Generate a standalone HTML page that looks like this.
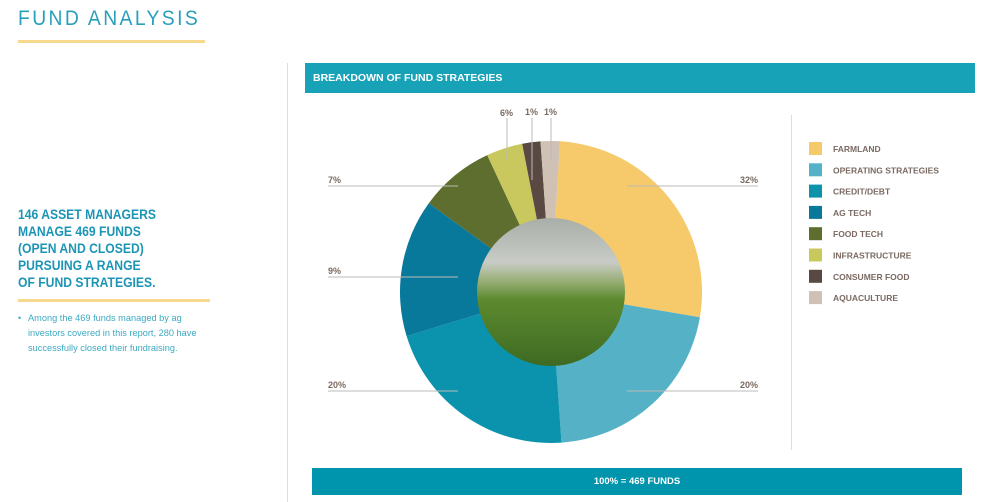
<!DOCTYPE html>
<html><head><meta charset="utf-8"><style>
body{margin:0;width:994px;height:502px;background:#fff;overflow:hidden;font-family:"Liberation Sans",sans-serif;position:relative}
.a{position:absolute}
</style></head><body>
<div class="a" style="left:18px;top:7px;font-size:21px;letter-spacing:2.6px;color:#2a9fba;font-weight:normal;transform:scaleX(0.92);transform-origin:left">FUND ANALYSIS</div>
<div class="a" style="left:18px;top:40px;width:187px;height:3px;background:#f8d88c"></div>
<div class="a" style="left:18px;top:206px;font-size:13.5px;line-height:17px;font-weight:bold;color:#1c95b5;transform:scaleX(0.9);transform-origin:left">146 ASSET MANAGERS<br>MANAGE 469 FUNDS<br>(OPEN AND CLOSED)<br>PURSUING A RANGE<br>OF FUND STRATEGIES.</div>
<div class="a" style="left:18px;top:299px;width:192px;height:3px;background:#f8d88c"></div>
<div class="a" style="left:18px;top:311px;font-size:9px;line-height:15px;color:#3ba9c3">•</div>
<div class="a" style="left:28px;top:311px;font-size:9.5px;line-height:15px;color:#3ba9c3;width:200px;white-space:nowrap;transform:scaleX(0.97);transform-origin:left">Among the 469 funds managed by ag<br>investors covered in this report, 280 have<br>successfully closed their fundraising.</div>
<div class="a" style="left:287px;top:63px;width:1px;height:439px;background:#ddd"></div>
<div class="a" style="left:305px;top:63px;width:670px;height:30px;background:#18a2b8;color:#fff;font-weight:bold;font-size:10.5px;line-height:30px;text-indent:8px">BREAKDOWN OF FUND STRATEGIES</div>
<div class="a" style="left:312px;top:468px;width:650px;height:27px;background:#0094ad;color:#fff;font-weight:bold;font-size:9.5px;line-height:27px;text-align:center">100% = 469 FUNDS</div>
<div class="a" style="left:791px;top:115px;width:1px;height:335px;background:#ddd"></div>
<svg class="a" style="left:0;top:0" width="994" height="502" id="s">
<defs>
<linearGradient id="img" x1="0" y1="0" x2="0" y2="1">
<stop offset="0" stop-color="#a8aea8"/><stop offset="0.3" stop-color="#c8cbc6"/><stop offset="0.42" stop-color="#9bb07a"/><stop offset="0.55" stop-color="#5d8a2f"/><stop offset="1" stop-color="#3e6a22"/></linearGradient>
</defs>
<g id="pie"></g>
<circle cx="551" cy="292" r="74" fill="url(#img)"/>
<g stroke="#bbb" stroke-width="1">
<line x1="627" y1="186" x2="758" y2="186"/><line x1="627" y1="391" x2="758" y2="391"/>
<line x1="328" y1="186" x2="458" y2="186"/><line x1="328" y1="277" x2="458" y2="277"/><line x1="328" y1="391" x2="458" y2="391"/>
<line x1="507" y1="118" x2="507" y2="160"/><line x1="532" y1="118" x2="532" y2="180"/><line x1="551" y1="118" x2="551" y2="160"/>
</g>
<g font-family="Liberation Sans" font-size="9" font-weight="bold" fill="#7a6a62">
<text x="758" y="183" text-anchor="end">32%</text><text x="758" y="388" text-anchor="end">20%</text>
<text x="328" y="183">7%</text><text x="328" y="274">9%</text><text x="328" y="388">20%</text>
<text x="500" y="116">6%</text><text x="525" y="115">1%</text><text x="544" y="115">1%</text>
</g>
<g font-family="Liberation Sans" font-size="8.5" font-weight="bold" fill="#7a6a62" id="leg"></g>
</svg>
<script>
var cx=551,cy=292,r=151;
var seg=[[3.4,99.6,"#f6c96a"],[99.6,176,"#55b2c6"],[176,253,"#0b93ae"],[253,306,"#08799a"],[306,335,"#5d6e2e"],[335,349,"#c9c85e"],[349,356,"#5a4843"],[356,363.4,"#cfc2b5"]];
function p(a){a=a*Math.PI/180;return (cx+r*Math.sin(a)).toFixed(1)+","+(cy-r*Math.cos(a)).toFixed(1);}
var h="";seg.forEach(function(s){h+='<path d="M'+cx+','+cy+' L'+p(s[0])+' A'+r+','+r+' 0 '+((s[1]-s[0])>180?1:0)+' 1 '+p(s[1])+' Z" fill="'+s[2]+'"/>';});
document.getElementById("pie").innerHTML=h;
var names=["FARMLAND","OPERATING STRATEGIES","CREDIT/DEBT","AG TECH","FOOD TECH","INFRASTRUCTURE","CONSUMER FOOD","AQUACULTURE"];
var l="";names.forEach(function(n,i){var y=142+i*21.3;l+='<rect x="809" y="'+y+'" width="13" height="13" fill="'+seg[i][2]+'"/><text x="833" y="'+(y+10)+'">'+n+'</text>';});
document.getElementById("leg").innerHTML=l;
</script>
</body></html>
